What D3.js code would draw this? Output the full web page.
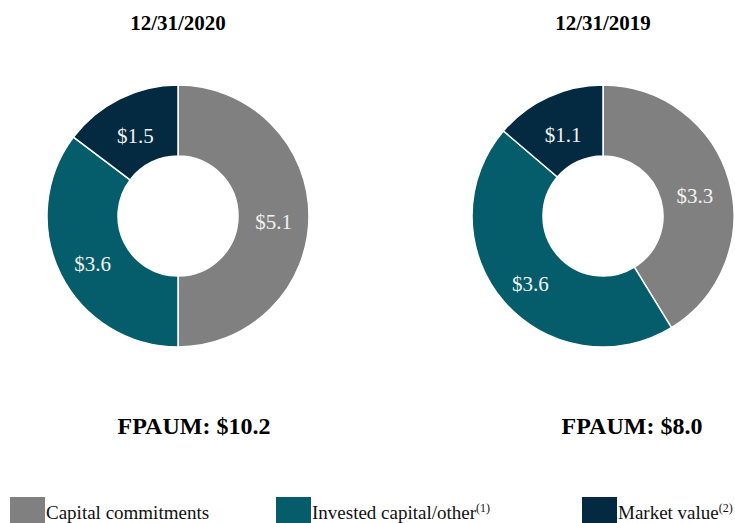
<!DOCTYPE html>
<html>
<head>
<meta charset="utf-8">
<script src="https://cdn.jsdelivr.net/npm/d3@7"></script>
<style>
  body { margin: 0; background: #fff; }
  text { font-family: "Liberation Serif", "Times New Roman", serif; }
</style>
</head>
<body>
<div id="chart"></div>
<script>
// Data
const categories = ["Capital commitments", "Invested capital/other", "Market value"];
const notes = ["", "(1)", "(2)"];
const dates = ["12/31/2020", "12/31/2019"];
const values2020 = [5.1, 3.6, 1.5];
const values2019 = [3.3, 3.6, 1.1];
const totals = ["$10.2", "$8.0"];

const colors = ["#808080", "#055d6b", "#032a40"];

const width = 735, height = 523;
const outerR = 131, innerR = 60;

const svg = d3.select("#chart")
  .append("svg")
    .attr("width", width)
    .attr("height", height);

const color = d3.scaleOrdinal().domain(categories).range(colors);

const pie = d3.pie().sort(null).value(d => d.value);
const arc = d3.arc().innerRadius(innerR).outerRadius(outerR);
const labelArc = d3.arc().innerRadius(innerR + 2).outerRadius(outerR - 2);

const panels = [
  { date: dates[0], values: values2020, total: totals[0], cx: 178, totalX: 194 },
  { date: dates[1], values: values2019, total: totals[1], cx: 603, totalX: 632 }
];

panels.forEach(p => {
  const rows = categories.map((c, i) => ({ category: c, value: p.values[i] }));

  // title
  svg.append("text")
    .attr("x", p.cx)
    .attr("y", 30)
    .attr("text-anchor", "middle")
    .style("font-size", "21px")
    .style("font-weight", "bold")
    .text(p.date);

  const g = svg.append("g")
    .attr("transform", `translate(${p.cx},216)`);

  g.selectAll("path")
    .data(pie(rows))
    .join("path")
    .attr("d", arc)
    .attr("fill", d => color(d.data.category))
    .attr("stroke", "#fff")
    .attr("stroke-width", 1.5);

  g.selectAll("text.val")
    .data(pie(rows))
    .join("text")
    .attr("class", "val")
    .attr("transform", d => `translate(${labelArc.centroid(d)})`)
    .attr("text-anchor", "middle")
    .attr("dy", ".6em")
    .style("font-size", "21px")
    .style("fill", "#f2f2f2")
    .text(d => "$" + d.data.value.toFixed(1));

  // total
  svg.append("text")
    .attr("x", p.totalX)
    .attr("y", 434)
    .attr("text-anchor", "middle")
    .style("font-size", "24px")
    .style("font-weight", "bold")
    .text("FPAUM: " + p.total);
});

// Legend
const legendX = [10, 276, 582];
const leg = svg.selectAll("g.legend")
  .data(categories)
  .join("g")
  .attr("class", "legend")
  .attr("transform", (d, i) => `translate(${legendX[i]},497)`);

leg.append("rect")
  .attr("width", 35)
  .attr("height", 26)
  .attr("fill", d => color(d));

const lt = leg.append("text")
  .attr("x", 36)
  .attr("y", 22)
  .style("font-size", "19px")
  .style("fill", "#111");

lt.append("tspan").text(d => d);
lt.append("tspan")
  .attr("dy", -7)
  .style("font-size", "12px")
  .text((d, i) => notes[i]);
</script>
</body>
</html>
